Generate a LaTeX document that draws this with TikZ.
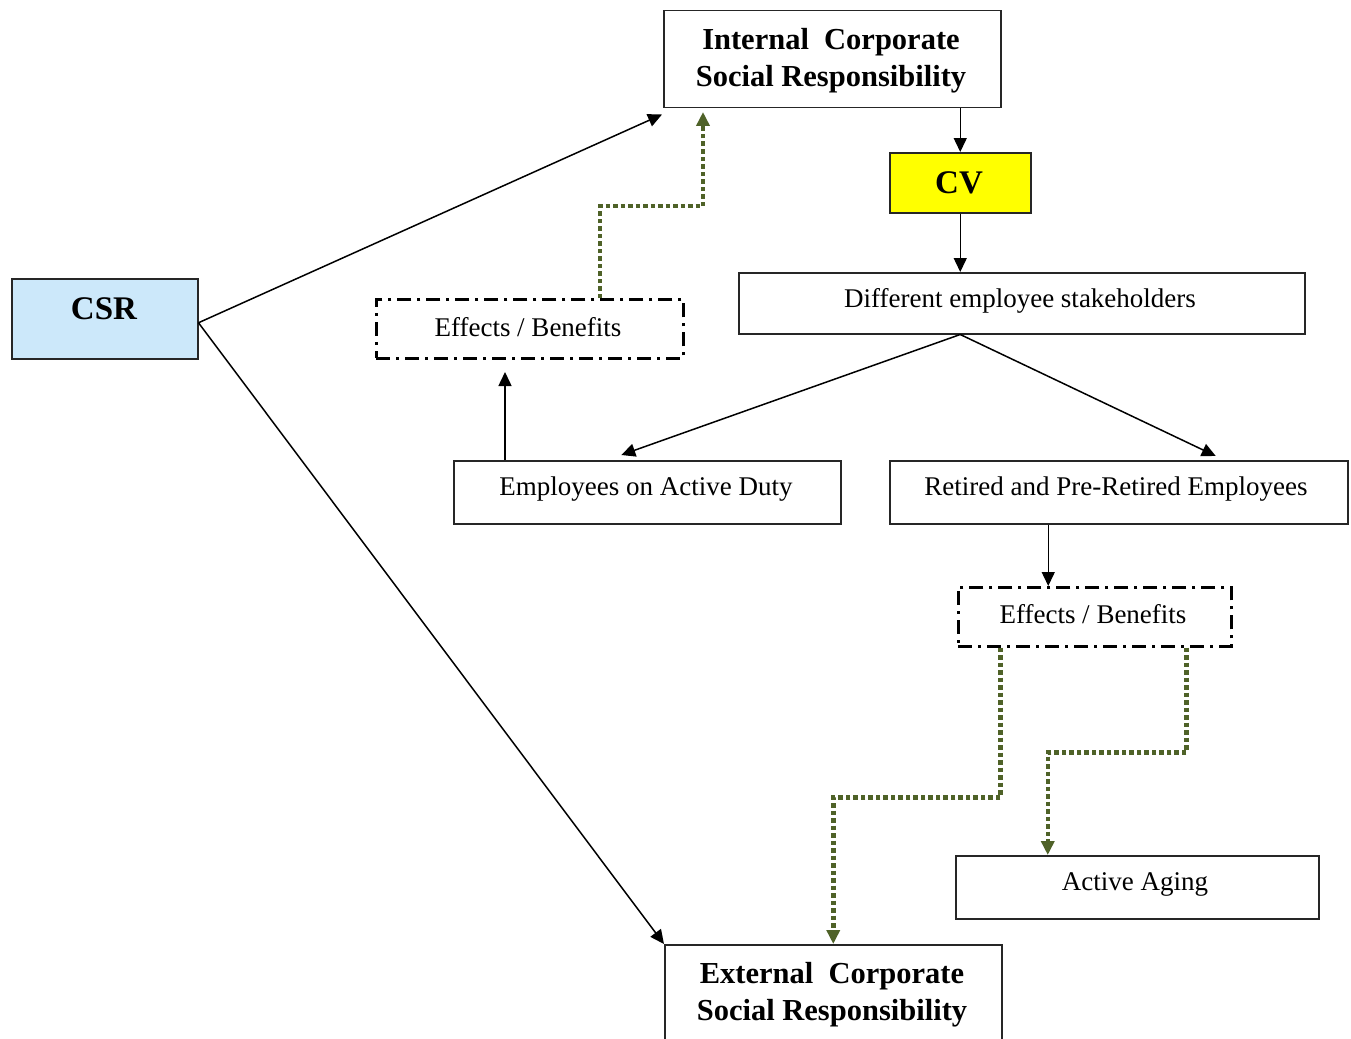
\documentclass[tikz,border=0pt]{standalone}
\usepackage{fontspec}
\setmainfont{Liberation Serif}
\usetikzlibrary{arrows.meta}
\definecolor{csrblue}{HTML}{CCE8FA}
\definecolor{cvyellow}{HTML}{FFFF00}
\definecolor{olivegreen}{HTML}{4F6228}
\tikzset{
  box/.style={draw=black!85, line width=1.5pt, inner sep=0pt, anchor=north west},
  ddbox/.style={draw=black, line width=2.5pt, dash pattern=on 14pt off 6pt on 3pt off 6pt, inner sep=0pt, anchor=north west},
  lbl/.style={font=\fontsize{27}{32}\selectfont, inner sep=0pt},
  blbl/.style={font=\fontsize{30.5}{37}\selectfont\bfseries, align=center, inner sep=0pt},
  biglbl/.style={font=\fontsize{33}{38}\selectfont\bfseries, inner sep=0pt},
  arr/.style={line width=1.5pt, black, -{Triangle[length=14pt,width=13pt]}},
  garr/.style={line width=4.5pt, olivegreen, dash pattern=on 4.5pt off 3pt, -{Triangle[length=14pt,width=13pt]}},
}
\begin{document}
\begin{tikzpicture}[x=1pt,y=-1pt]
\clip (0,0) rectangle (1351,1038);
\fill[white] (0,0) rectangle (1351,1038);
% boxes
\node[box, minimum width=337, minimum height=97] (int) at (663,10) {};
\node[blbl] (intT) at (831,61) {Internal\ \ Corporate\\Social Responsibility};
\node[box, fill=csrblue, minimum width=186, minimum height=80] (csr) at (11,278) {};
\node[biglbl] (csrT) at (104,309) {CSR};
\node[box, fill=cvyellow, minimum width=141, minimum height=60] (cv) at (889,152) {};
\node[biglbl] (cvT) at (959,183) {CV};
\node[box, minimum width=566, minimum height=61] (diff) at (738,272) {};
\node[lbl] (diffT) at (1020,301) {Different employee stakeholders};
\node[ddbox, minimum width=307, minimum height=59] (eff1) at (375,298) {};
\node[lbl] (eff1T) at (528,327) {Effects / Benefits};
\node[box, minimum width=387, minimum height=63] (emp) at (453,460) {};
\node[lbl] (empT) at (646,489) {Employees on Active Duty};
\node[box, minimum width=458, minimum height=63] (ret) at (889,460) {};
\node[lbl] (retT) at (1116,489) {Retired and Pre-Retired Employees};
\node[ddbox, minimum width=273, minimum height=59] (eff2) at (957,586) {};
\node[lbl] (eff2T) at (1093,614) {Effects / Benefits};
\node[box, minimum width=363, minimum height=63] (aging) at (955,855) {};
\node[lbl] (agingT) at (1135,884) {Active Aging};
\node[box, minimum width=337, minimum height=120] (ext) at (664,944) {};
\node[blbl] (extT) at (832,995) {External\ \ Corporate\\Social Responsibility};
% coordinates
\coordinate (e1in) at (505,372);
\coordinate (g1a) at (600,206);
\coordinate (g1b) at (703,206);
\coordinate (g1c) at (703,112);
% black connectors
\draw[arr] ([yshift=-4pt]csr.east) -- ([shift={(-1,6)}]int.south west);
\draw[arr] ([yshift=-4pt]csr.east) -- (ext.north west);
\draw[arr] (cv.north |- int.south) -- (cv.north);
\draw[arr] (cv.south) -- (cv.south |- diff.north);
\draw[arr] (diff.south -| cv.south) -- ([xshift=-26pt,yshift=5pt]emp.north);
\draw[arr] (diff.south -| cv.south) -- ([xshift=97pt,yshift=4pt]ret.north);
\draw[arr] (e1in |- emp.north) -- (e1in);
\draw[arr] ([xshift=-46.5pt]eff2.north |- ret.south) -- ([xshift=-46.5pt]eff2.north);
% green dotted connectors
\draw[garr] (g1a |- eff1.north) -- (g1a) -- (g1b) -- (g1c);
\draw[garr] ([xshift=-94.5pt]eff2.south) -- ++(0,150) -| (ext.north);
\draw[garr] ([xshift=91.5pt]eff2.south) -- ++(0,105) -| ([xshift=-89.5pt]aging.north);
\end{tikzpicture}
\end{document}
